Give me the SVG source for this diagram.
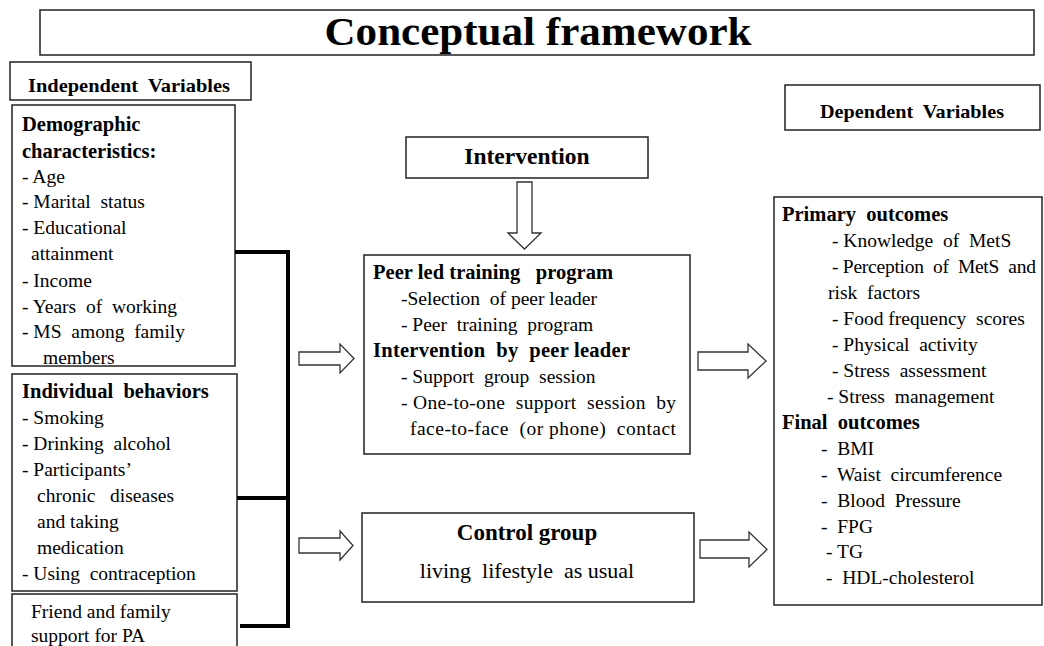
<svg xmlns="http://www.w3.org/2000/svg" width="1044" height="646" viewBox="0 0 1044 646">
<style>
.box{fill:#fff;stroke:#222;stroke-width:1.5}
.t{font-family:"Liberation Serif","Times New Roman",serif;font-size:19.5px;fill:#000;white-space:pre}
.b{font-weight:bold;font-size:20.5px}
.c{text-anchor:middle}
.conn{fill:none;stroke:#000;stroke-width:4}
.arr{fill:#fff;stroke:#333;stroke-width:1.3}
</style>
<rect width="1044" height="646" fill="#fff"/>
<g id="title">
<rect class="box" x="40" y="10" width="994" height="45"/>
<text class="t b c" x="538" y="45" style="font-size:40px" textLength="427" lengthAdjust="spacingAndGlyphs">Conceptual framework</text>
</g>
<g id="independent-label">
<rect class="box" x="10" y="62" width="241" height="38"/>
<text class="t b" x="28" y="92" style="font-size:19px" textLength="202" lengthAdjust="spacingAndGlyphs">Independent  Variables</text>
</g>
<g id="demographic">
<rect class="box" x="12" y="105" width="223" height="261"/>
<text class="t b" x="22" y="131">Demographic</text>
<text class="t b" x="22" y="158">characteristics:</text>
<text class="t" x="22" y="183">- Age</text>
<text class="t" x="22" y="208">- Marital  status</text>
<text class="t" x="22" y="234">- Educational</text>
<text class="t" x="31" y="260">attainment</text>
<text class="t" x="22" y="287">- Income</text>
<text class="t" x="22" y="313">- Years  of  working</text>
<text class="t" x="22" y="338">- MS  among  family</text>
<text class="t" x="43" y="364">members</text>
</g>
<g id="individual">
<rect class="box" x="12" y="374" width="225" height="217"/>
<text class="t b" x="22" y="398">Individual  behaviors</text>
<text class="t" x="22" y="424">- Smoking</text>
<text class="t" x="22" y="450">- Drinking  alcohol</text>
<text class="t" x="22" y="476">- Participants’</text>
<text class="t" x="37" y="502">chronic   diseases</text>
<text class="t" x="37" y="528">and taking</text>
<text class="t" x="37" y="554">medication</text>
<text class="t" x="22" y="580">- Using  contraception</text>
</g>
<g id="friend">
<rect class="box" x="12" y="594" width="225" height="60"/>
<text class="t" x="31" y="618">Friend and family</text>
<text class="t" x="31" y="642">support for PA</text>
</g>
<g id="intervention">
<rect class="box" x="406" y="137" width="242" height="41"/>
<text class="t b c" x="527" y="164" style="font-size:23.5px">Intervention</text>
</g>
<g id="peer-program">
<rect class="box" x="364" y="255" width="326" height="199"/>
<text class="t b" x="373" y="279" textLength="240">Peer led training   program</text>
<text class="t" x="401" y="305">-Selection  of peer leader</text>
<text class="t" x="401" y="331">- Peer  training  program</text>
<text class="t b" x="373" y="357" textLength="257">Intervention  by  peer leader</text>
<text class="t" x="401" y="383">- Support  group  session</text>
<text class="t" x="401" y="409" textLength="275">- One-to-one  support  session  by</text>
<text class="t" x="410" y="435" textLength="266">face-to-face  (or phone)  contact</text>
</g>
<g id="control">
<rect class="box" x="362" y="513" width="332" height="89"/>
<text class="t b c" x="527" y="540" style="font-size:23px">Control group</text>
<text class="t c" x="527" y="578" style="font-size:22px">living  lifestyle  as usual</text>
</g>
<g id="dependent-label">
<rect class="box" x="785" y="85" width="255" height="45"/>
<text class="t b" x="820" y="118" style="font-size:19px" textLength="184" lengthAdjust="spacingAndGlyphs">Dependent  Variables</text>
</g>
<g id="outcomes">
<rect class="box" x="774" y="197" width="268" height="408"/>
<text class="t b" x="782" y="221">Primary  outcomes</text>
<text class="t" x="832" y="247">- Knowledge  of  MetS</text>
<text class="t" x="832" y="273" textLength="204">- Perception  of  MetS  and</text>
<text class="t" x="828" y="299">risk  factors</text>
<text class="t" x="832" y="325">- Food frequency  scores</text>
<text class="t" x="832" y="351">- Physical  activity</text>
<text class="t" x="832" y="377">- Stress  assessment</text>
<text class="t" x="827" y="403">- Stress  management</text>
<text class="t b" x="782" y="429">Final  outcomes</text>
<text class="t" x="821" y="455">-  BMI</text>
<text class="t" x="821" y="481">-  Waist  circumference</text>
<text class="t" x="821" y="507">-  Blood  Pressure</text>
<text class="t" x="821" y="533">-  FPG</text>
<text class="t" x="826" y="558">- TG</text>
<text class="t" x="826" y="584">-  HDL-cholesterol</text>
</g>
<g id="connectors">
<polyline class="conn" points="235,252 288,252 288,626 240,626"/>
<line class="conn" x1="237" y1="498" x2="288" y2="498"/>
<polygon class="arr" points="517,182 532,182 532,233 541,233 524.5,249 508,233 517,233"/>
<polygon class="arr" points="299,352 340,352 340,344 354,358.5 340,373 340,365 299,365"/>
<polygon class="arr" points="299,538 340,538 340,531 353,545.5 340,560 340,553 299,553"/>
<polygon class="arr" points="698,352 748,352 748,344 766,361 748,378 748,370 698,370"/>
<polygon class="arr" points="700,540 749,540 749,532 767,549.5 749,567 749,558 700,558"/>
</g>
</svg>
